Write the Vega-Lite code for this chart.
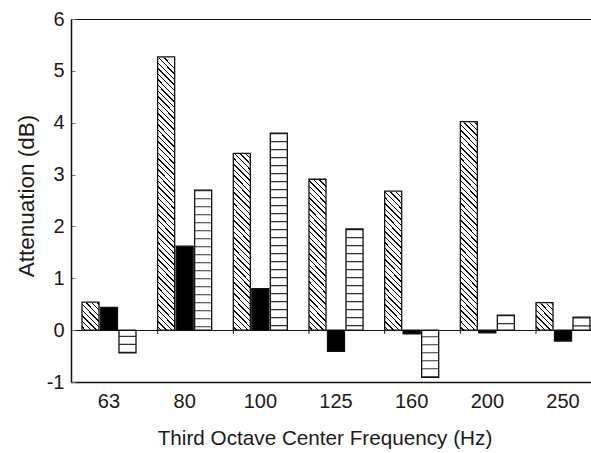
{
  "$schema": "https://vega.github.io/schema/vega-lite/v6.json",
  "width": 520,
  "height": 363,
  "autosize": {"type": "none"},
  "padding": {"left": 71, "top": 19, "right": 0, "bottom": 71},
  "background": "white",
  "config": {"view": {"stroke": null}, "font": "Liberation Sans"},
  "data": {"values": [
    {"freq": "63", "series": "S1", "value": 0.54},
    {"freq": "63", "series": "S2", "value": 0.44},
    {"freq": "63", "series": "S3", "value": -0.44},
    {"freq": "80", "series": "S1", "value": 5.27},
    {"freq": "80", "series": "S2", "value": 1.62},
    {"freq": "80", "series": "S3", "value": 2.70},
    {"freq": "100", "series": "S1", "value": 3.41},
    {"freq": "100", "series": "S2", "value": 0.80},
    {"freq": "100", "series": "S3", "value": 3.80},
    {"freq": "125", "series": "S1", "value": 2.91},
    {"freq": "125", "series": "S2", "value": -0.41},
    {"freq": "125", "series": "S3", "value": 1.95},
    {"freq": "160", "series": "S1", "value": 2.68},
    {"freq": "160", "series": "S2", "value": -0.07},
    {"freq": "160", "series": "S3", "value": -0.91},
    {"freq": "200", "series": "S1", "value": 4.02},
    {"freq": "200", "series": "S2", "value": -0.05},
    {"freq": "200", "series": "S3", "value": 0.29},
    {"freq": "250", "series": "S1", "value": 0.53},
    {"freq": "250", "series": "S2", "value": -0.21},
    {"freq": "250", "series": "S3", "value": 0.25}
  ]},
  "encoding": {
    "x": {"field": "freq", "type": "nominal", "sort": null,
      "scale": {"domain": ["63", "80", "100", "125", "160", "200", "250"], "range": [0, 530], "paddingInner": 0.286, "paddingOuter": 0.145},
      "axis": {"orient": "bottom", "title": "Third Octave Center Frequency (Hz)", "labelAngle": 0, "ticks": false, "grid": false,
        "domainColor": "#111", "domainWidth": 1.5, "labelFontSize": 20, "labelColor": "#1a1a1a", "labelPadding": 9,
        "titleFontSize": 20.7, "titleFontWeight": "normal", "titleColor": "#1a1a1a", "titlePadding": 17, "titleX": 253.5}},
    "xOffset": {"field": "series", "type": "nominal", "scale": {"domain": ["S1", "S2", "S3"], "paddingInner": 0.08, "paddingOuter": 0}},
    "y": {"field": "value", "type": "quantitative",
      "scale": {"domain": [-1, 6], "nice": false, "zero": false},
      "axis": {"title": "Attenuation (dB)", "values": [-1, 0, 1, 2, 3, 4, 5, 6], "labelExpr": "'' + datum.value",
        "grid": true, "gridColor": "#111", "gridWidth": 1.2,
        "gridOpacity": {"condition": {"test": "datum.value === 0 || datum.value === 6", "value": 1}, "value": 0},
        "domainColor": "#111", "domainWidth": 1.5, "tickSize": -4, "tickColor": "#777", "tickWidth": 1, "labelPadding": 11,
        "labelFontSize": 20, "labelColor": "#1a1a1a", "titleFontSize": 22.5, "titleFontWeight": "normal", "titleColor": "#1a1a1a", "titlePadding": 8, "titleY": 176.5}}
  },
  "layer": [
    {
      "transform": [{"filter": "datum.series === 'S1'"}],
      "mark": {"type": "bar", "strokeWidth": 0, "fill": {"gradient": "linear", "x1": 0.0619, "y1": 0, "x2": 0, "y2": 1, "stops": [
        {"offset": 0, "color": "white"}, {"offset": 0.005, "color": "white"},
        {"offset": 0.005, "color": "black"}, {"offset": 0.01, "color": "black"}, {"offset": 0.01, "color": "white"}, {"offset": 0.025, "color": "white"},
        {"offset": 0.025, "color": "black"}, {"offset": 0.03, "color": "black"}, {"offset": 0.03, "color": "white"}, {"offset": 0.045, "color": "white"},
        {"offset": 0.045, "color": "black"}, {"offset": 0.05, "color": "black"}, {"offset": 0.05, "color": "white"}, {"offset": 0.065, "color": "white"},
        {"offset": 0.065, "color": "black"}, {"offset": 0.07, "color": "black"}, {"offset": 0.07, "color": "white"}, {"offset": 0.085, "color": "white"},
        {"offset": 0.085, "color": "black"}, {"offset": 0.09, "color": "black"}, {"offset": 0.09, "color": "white"}, {"offset": 0.105, "color": "white"},
        {"offset": 0.105, "color": "black"}, {"offset": 0.11, "color": "black"}, {"offset": 0.11, "color": "white"}, {"offset": 0.125, "color": "white"},
        {"offset": 0.125, "color": "black"}, {"offset": 0.13, "color": "black"}, {"offset": 0.13, "color": "white"}, {"offset": 0.145, "color": "white"},
        {"offset": 0.145, "color": "black"}, {"offset": 0.15, "color": "black"}, {"offset": 0.15, "color": "white"}, {"offset": 0.165, "color": "white"},
        {"offset": 0.165, "color": "black"}, {"offset": 0.17, "color": "black"}, {"offset": 0.17, "color": "white"}, {"offset": 0.185, "color": "white"},
        {"offset": 0.185, "color": "black"}, {"offset": 0.19, "color": "black"}, {"offset": 0.19, "color": "white"}, {"offset": 0.205, "color": "white"},
        {"offset": 0.205, "color": "black"}, {"offset": 0.21, "color": "black"}, {"offset": 0.21, "color": "white"}, {"offset": 0.225, "color": "white"},
        {"offset": 0.225, "color": "black"}, {"offset": 0.23, "color": "black"}, {"offset": 0.23, "color": "white"}, {"offset": 0.245, "color": "white"},
        {"offset": 0.245, "color": "black"}, {"offset": 0.25, "color": "black"}, {"offset": 0.25, "color": "white"}, {"offset": 0.265, "color": "white"},
        {"offset": 0.265, "color": "black"}, {"offset": 0.27, "color": "black"}, {"offset": 0.27, "color": "white"}, {"offset": 0.285, "color": "white"},
        {"offset": 0.285, "color": "black"}, {"offset": 0.29, "color": "black"}, {"offset": 0.29, "color": "white"}, {"offset": 0.305, "color": "white"},
        {"offset": 0.305, "color": "black"}, {"offset": 0.31, "color": "black"}, {"offset": 0.31, "color": "white"}, {"offset": 0.325, "color": "white"},
        {"offset": 0.325, "color": "black"}, {"offset": 0.33, "color": "black"}, {"offset": 0.33, "color": "white"}, {"offset": 0.345, "color": "white"},
        {"offset": 0.345, "color": "black"}, {"offset": 0.35, "color": "black"}, {"offset": 0.35, "color": "white"}, {"offset": 0.365, "color": "white"},
        {"offset": 0.365, "color": "black"}, {"offset": 0.37, "color": "black"}, {"offset": 0.37, "color": "white"}, {"offset": 0.385, "color": "white"},
        {"offset": 0.385, "color": "black"}, {"offset": 0.39, "color": "black"}, {"offset": 0.39, "color": "white"}, {"offset": 0.405, "color": "white"},
        {"offset": 0.405, "color": "black"}, {"offset": 0.41, "color": "black"}, {"offset": 0.41, "color": "white"}, {"offset": 0.425, "color": "white"},
        {"offset": 0.425, "color": "black"}, {"offset": 0.43, "color": "black"}, {"offset": 0.43, "color": "white"}, {"offset": 0.445, "color": "white"},
        {"offset": 0.445, "color": "black"}, {"offset": 0.45, "color": "black"}, {"offset": 0.45, "color": "white"}, {"offset": 0.465, "color": "white"},
        {"offset": 0.465, "color": "black"}, {"offset": 0.47, "color": "black"}, {"offset": 0.47, "color": "white"}, {"offset": 0.485, "color": "white"},
        {"offset": 0.485, "color": "black"}, {"offset": 0.49, "color": "black"}, {"offset": 0.49, "color": "white"}, {"offset": 0.505, "color": "white"},
        {"offset": 0.505, "color": "black"}, {"offset": 0.51, "color": "black"}, {"offset": 0.51, "color": "white"}, {"offset": 0.525, "color": "white"},
        {"offset": 0.525, "color": "black"}, {"offset": 0.53, "color": "black"}, {"offset": 0.53, "color": "white"}, {"offset": 0.545, "color": "white"},
        {"offset": 0.545, "color": "black"}, {"offset": 0.55, "color": "black"}, {"offset": 0.55, "color": "white"}, {"offset": 0.565, "color": "white"},
        {"offset": 0.565, "color": "black"}, {"offset": 0.57, "color": "black"}, {"offset": 0.57, "color": "white"}, {"offset": 0.585, "color": "white"},
        {"offset": 0.585, "color": "black"}, {"offset": 0.59, "color": "black"}, {"offset": 0.59, "color": "white"}, {"offset": 0.605, "color": "white"},
        {"offset": 0.605, "color": "black"}, {"offset": 0.61, "color": "black"}, {"offset": 0.61, "color": "white"}, {"offset": 0.625, "color": "white"},
        {"offset": 0.625, "color": "black"}, {"offset": 0.63, "color": "black"}, {"offset": 0.63, "color": "white"}, {"offset": 0.645, "color": "white"},
        {"offset": 0.645, "color": "black"}, {"offset": 0.65, "color": "black"}, {"offset": 0.65, "color": "white"}, {"offset": 0.665, "color": "white"},
        {"offset": 0.665, "color": "black"}, {"offset": 0.67, "color": "black"}, {"offset": 0.67, "color": "white"}, {"offset": 0.685, "color": "white"},
        {"offset": 0.685, "color": "black"}, {"offset": 0.69, "color": "black"}, {"offset": 0.69, "color": "white"}, {"offset": 0.705, "color": "white"},
        {"offset": 0.705, "color": "black"}, {"offset": 0.71, "color": "black"}, {"offset": 0.71, "color": "white"}, {"offset": 0.725, "color": "white"},
        {"offset": 0.725, "color": "black"}, {"offset": 0.73, "color": "black"}, {"offset": 0.73, "color": "white"}, {"offset": 0.745, "color": "white"},
        {"offset": 0.745, "color": "black"}, {"offset": 0.75, "color": "black"}, {"offset": 0.75, "color": "white"}, {"offset": 0.765, "color": "white"},
        {"offset": 0.765, "color": "black"}, {"offset": 0.77, "color": "black"}, {"offset": 0.77, "color": "white"}, {"offset": 0.785, "color": "white"},
        {"offset": 0.785, "color": "black"}, {"offset": 0.79, "color": "black"}, {"offset": 0.79, "color": "white"}, {"offset": 0.805, "color": "white"},
        {"offset": 0.805, "color": "black"}, {"offset": 0.81, "color": "black"}, {"offset": 0.81, "color": "white"}, {"offset": 0.825, "color": "white"},
        {"offset": 0.825, "color": "black"}, {"offset": 0.83, "color": "black"}, {"offset": 0.83, "color": "white"}, {"offset": 0.845, "color": "white"},
        {"offset": 0.845, "color": "black"}, {"offset": 0.85, "color": "black"}, {"offset": 0.85, "color": "white"}, {"offset": 0.865, "color": "white"},
        {"offset": 0.865, "color": "black"}, {"offset": 0.87, "color": "black"}, {"offset": 0.87, "color": "white"}, {"offset": 0.885, "color": "white"},
        {"offset": 0.885, "color": "black"}, {"offset": 0.89, "color": "black"}, {"offset": 0.89, "color": "white"}, {"offset": 0.905, "color": "white"},
        {"offset": 0.905, "color": "black"}, {"offset": 0.91, "color": "black"}, {"offset": 0.91, "color": "white"}, {"offset": 0.925, "color": "white"},
        {"offset": 0.925, "color": "black"}, {"offset": 0.93, "color": "black"}, {"offset": 0.93, "color": "white"}, {"offset": 0.945, "color": "white"},
        {"offset": 0.945, "color": "black"}, {"offset": 0.95, "color": "black"}, {"offset": 0.95, "color": "white"}, {"offset": 0.965, "color": "white"},
        {"offset": 0.965, "color": "black"}, {"offset": 0.97, "color": "black"}, {"offset": 0.97, "color": "white"}, {"offset": 0.985, "color": "white"},
        {"offset": 0.985, "color": "black"}, {"offset": 0.99, "color": "black"}, {"offset": 0.99, "color": "white"}, {"offset": 1, "color": "white"}
      ]}},
      "encoding": {
        "y": {"datum": 0, "type": "quantitative"},
        "y2": {"datum": 5.4}
      }
    },
    {
      "transform": [{"filter": "datum.series === 'S1'"}],
      "mark": {"type": "bar", "fill": "white", "stroke": "white", "strokeWidth": 1.5},
      "encoding": {"y2": {"datum": 5.5}}
    },
    {
      "transform": [{"filter": "datum.series === 'S3'"}],
      "mark": {"type": "rule", "strokeWidth": 17, "strokeDash": [1.2, 6.8], "color": "#333", "strokeCap": "butt"},
      "encoding": {"y2": {"datum": 0}}
    },
    {
      "mark": {"type": "bar", "stroke": "#111", "strokeWidth": 1.3},
      "encoding": {
        "y2": {"datum": 0},
        "fill": {"condition": {"test": "datum.series === 'S2'", "value": "black"}, "value": "transparent"}
      }
    },
    {
      "transform": [{"filter": "datum.series === 'S1' && datum.freq !== '63'"}],
      "mark": {"type": "rule", "color": "#111", "strokeWidth": 1},
      "encoding": {
        "x": {"field": "freq", "type": "nominal", "sort": null, "bandPosition": -0.2},
        "xOffset": {"value": 0},
        "y": {"datum": 0, "type": "quantitative"},
        "y2": {"datum": -0.07}
      }
    }
  ]
}
